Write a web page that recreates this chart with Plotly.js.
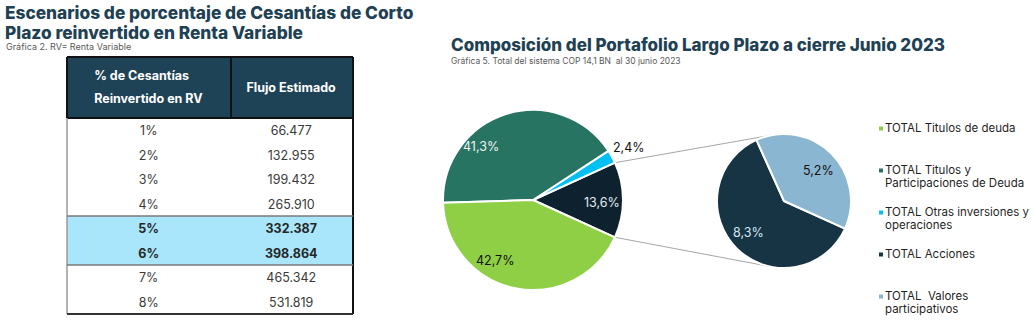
<!DOCTYPE html>
<html><head><meta charset="utf-8">
<script src="https://cdn.plot.ly/plotly-3.0.1.min.js"></script>
<style>html,body{margin:0;padding:0;background:#fff}</style>
</head><body><div id="chart" style="width:1033px;height:325px"></div>
<script>
// ---------------- data ----------------
const pctCesantias = ['1%', '2%', '3%', '4%', '5%', '6%', '7%', '8%'];
const flujoEstimado = ['66.477', '132.955', '199.432', '265.910', '332.387', '398.864', '465.342', '531.819'];
const tableHeader = ['% de Cesantías<br>Reinvertido en RV', 'Flujo Estimado'];
const highlightRows = [4, 5];

const categories = [
  'TOTAL Titulos de deuda',
  'TOTAL Titulos y<br>Participaciones de Deuda',
  'TOTAL Otras inversiones y<br>operaciones',
  'TOTAL Acciones',
  'TOTAL  Valores<br>participativos'
];
const mainValues = [42.7, 41.3, 2.4];      // first three categories (main pie)
const otherLabel = 'Otros (Acciones + Valores participativos)';
const otherValue = 13.6;                   // combined slice of the main pie
const secondaryValues = [8.3, 5.2];        // TOTAL Acciones, TOTAL Valores participativos

// ---------------- style ----------------
const W = 1033, H = 325;
const px = x => x / W;
const py = y => 1 - y / H;
const FONT = 'Inter, sans-serif';
const colors = ['#8ecf46', '#287463', '#00bff3', '#163443', '#8ab6d1'];
const otherColor = '#0d222e';
const titleColor = '#1e4154';

// legend labels: every entry takes three text lines (equal slots, like the reference)
const legendText = categories.map((c, i) => {
  const lines = c.split('<br>');
  const n = i === categories.length - 1 ? lines.length : 3;
  while (lines.length < n) lines.push('\u00a0');
  return lines.map(s => '<span style="font-size:11.5px">' + s + '</span>').join('<br>');
});

// table geometry
const tLeft = 67, tTop = 57, colW = [164, 122], headH = 61, rowH = 24.5;
const tRight = tLeft + colW[0] + colW[1];
const tBottom = tTop + headH + rowH * pctCesantias.length;

// pie geometry
const main = {cx: 533, cy: 200, r: 90};
const sec = {cx: 784, cy: 201, r: 67, rotation: -24.3};
const dom = p => ({x: [px(p.cx - p.r), px(p.cx + p.r)], y: [py(p.cy + p.r), py(p.cy - p.r)]});

// ---------------- table ----------------
const isHi = i => highlightRows.indexOf(i) !== -1;
const fillCol = pctCesantias.map((_, i) => isHi(i) ? '#a9e6fb' : '#ffffff');
const weightCol = pctCesantias.map((_, i) => isHi(i) ? 700 : 400);
const colorCol = pctCesantias.map((_, i) => isHi(i) ? '#262626' : '#3a3a3a');
// header text: fine line grid (small base font) so the two header lines sit apart and
// the single-line header is centred between them
const hs = s => '<span style="font-size:12.5px">' + s + '</span>';
const NB = '\u00a0';
const headerDisplay = [
  '<b>' + [NB, NB].concat([hs(tableHeader[0].split('<br>')[0]), NB, NB, NB, hs(tableHeader[0].split('<br>')[1])]).join('<br>') + '</b>',
  '<b>' + [NB, NB, NB, NB, hs(tableHeader[1])].join('<br>') + '</b>'
];

const tableTrace = {
  type: 'table',
  domain: {x: [px(tLeft), px(tRight)], y: [py(tBottom + 4), py(tTop)]},
  columnwidth: colW,
  header: {
    values: headerDisplay, align: 'center', height: headH,
    fill: {color: '#1e4356'}, line: {color: '#1e4356', width: 1},
    font: {family: FONT, size: 4.4, color: '#ffffff'}
  },
  cells: {
    values: [pctCesantias, flujoEstimado],
    align: 'center', height: rowH,
    fill: {color: [fillCol, fillCol]}, line: {color: [fillCol, fillCol], width: 1},
    font: {family: FONT, size: 12.5, color: [colorCol, colorCol], weight: [weightCol, weightCol]}
  },
  hoverinfo: 'skip'
};

// ---------------- pies ----------------
const mainLabels = [otherLabel, legendText[2], legendText[1], legendText[0]];
const mainVals = [otherValue, mainValues[2], mainValues[1], mainValues[0]];
const mainColors = [otherColor, colors[2], colors[1], colors[0]];
const mainTotal = mainVals.reduce((a, b) => a + b, 0);
const otherAngle = otherValue / mainTotal * 360;

const mainPie = {
  type: 'pie', sort: false, direction: 'counterclockwise',
  rotation: 90 - otherAngle / 2,
  labels: mainLabels, values: mainVals,
  marker: {colors: mainColors, line: {color: '#ffffff', width: 2}},
  domain: dom(main), textinfo: 'none',
  showlegend: false, hoverinfo: 'percent'
};

const secVals = [0, 0, 0, secondaryValues[0], secondaryValues[1]];
const secPie = {
  type: 'pie', sort: false, direction: 'counterclockwise',
  rotation: sec.rotation,
  labels: legendText, values: secVals,
  marker: {colors: colors, line: {color: '#ffffff', width: 2}},
  domain: dom(sec), textinfo: 'none',
  showlegend: true, hoverinfo: 'value'
};

// data labels, placed at each slice's middle angle (Excel-like spots: extra angle / radius factor)
const fmtPct = v => v.toFixed(1).replace('.', ',') + '%';
function sliceLabels(p, vals, startMath, place, fontColors) {
  const tot = vals.reduce((a, b) => a + b, 0);
  let a = startMath;
  const out = [];
  vals.forEach((v, i) => {
    const span = v / tot * 360;
    if (v > 0) {
      const pl = place[i];
      const mid = (a + span / 2 + pl[0]) * Math.PI / 180;
      out.push({xref: 'paper', yref: 'paper', showarrow: false,
        x: px(p.cx + pl[1] * p.r * Math.cos(mid)), y: py(p.cy - pl[1] * p.r * Math.sin(mid)),
        xanchor: 'center', yanchor: 'middle', text: fmtPct(v),
        font: {family: FONT, size: 12.5, color: fontColors[i]}});
    }
    a += span;
  });
  return out;
}
const mainPlace = [[-1.7, 0.77], [0, 1.22], [26.4, 0.83], [-21, 0.79]];
const secPlace = [[0, 0], [0, 0], [0, 0], [-4, 0.71], [-3.6, 0.68]];
const pieLabels = sliceLabels(main, mainVals, -otherAngle / 2, mainPlace, ['#e3ecf1', '#111', '#eef5f2', '#111'])
  .concat(sliceLabels(sec, secVals, 90 - sec.rotation, secPlace, ['#000', '#000', '#000', '#d5e7f3', '#111']));

// connector lines: from the edges of the combined slice to tangent points of the secondary pie
function tangentLine(sign) {
  const a = (otherAngle / 2) * Math.PI / 180 * sign;
  const P = [main.cx + main.r * Math.cos(a), main.cy - main.r * Math.sin(a)];
  const dx = P[0] - sec.cx, dy = -(P[1] - sec.cy);
  const d = Math.hypot(dx, dy);
  const base = Math.atan2(dy, dx);
  const off = Math.acos(sec.r / d);
  const t = base - sign * off;
  const T = [sec.cx + sec.r * Math.cos(t), sec.cy - sec.r * Math.sin(t)];
  return {type: 'line', xref: 'paper', yref: 'paper', x0: px(P[0]), y0: py(P[1]), x1: px(T[0]), y1: py(T[1]),
          line: {color: '#a6a6a6', width: 1}, layer: 'below'};
}

const L = (x0, y0, x1, y1, color, width) => ({type: 'line', xref: 'paper', yref: 'paper',
  x0: px(x0), y0: py(y0), x1: px(x1), y1: py(y1), line: {color: color, width: width}});
const hiTop = tTop + headH + rowH * Math.min(...highlightRows);
const hiBot = tTop + headH + rowH * (Math.max(...highlightRows) + 1);

const shapes = [
  tangentLine(1), tangentLine(-1),
  // header box
  L(tLeft, tTop, tRight, tTop, '#111', 2),
  L(tLeft, tTop, tLeft, tTop + headH, '#111', 2),
  L(tRight, tTop, tRight, tTop + headH, '#111', 2),
  L(tLeft + colW[0], tTop, tLeft + colW[0], tTop + headH, '#111', 2),
  L(tLeft, tTop + headH, tRight, tTop + headH, '#111', 2),
  // body box
  L(tLeft, tTop + headH, tLeft, tBottom, '#9a9a9a', 1.5),
  L(tRight, tTop + headH, tRight, tBottom, '#111', 2),
  L(tLeft, tBottom, tRight, tBottom, '#333', 2),
  // highlight group
  L(tLeft, hiTop, tRight, hiTop, '#7a7a7a', 1.5),
  L(tLeft, hiBot, tRight, hiBot, '#7a7a7a', 1.5)
];

const ann = (x, y, text, size, color, weight) => ({xref: 'paper', yref: 'paper', x: px(x), y: py(y),
  xanchor: 'left', yanchor: 'middle', showarrow: false, text: text,
  font: {family: FONT, size: size, color: color, weight: weight || 400}});

const annotations = [
  ann(3, 12, 'Escenarios de porcentaje de Cesantías de Corto', 17.3, titleColor, 800),
  ann(3, 32, 'Plazo reinvertido en Renta Variable', 17.3, titleColor, 800),
  ann(4, 46.5, 'Gráfica 2. RV= Renta Variable', 9, '#595959'),
  ann(449, 45, 'Composición del Portafolio Largo Plazo a cierre Junio 2023', 17, titleColor, 800),
  ann(449, 61, 'Gráfica 5. Total del sistema COP 14,1 BN\u00a0 al 30 junio 2023', 8.5, '#595959')
].concat(pieLabels);

const layout = {
  width: W, height: H, margin: {l: 0, r: 0, t: 0, b: 0, autoexpand: false},
  paper_bgcolor: '#ffffff', plot_bgcolor: '#ffffff',
  separators: ',.',
  font: {family: FONT},
  showlegend: true,
  legend: {x: px(845), xanchor: 'left', y: py(115.5), yanchor: 'top', valign: 'top',
           font: {family: FONT, size: 10, color: '#1f1f1f'}, bgcolor: 'rgba(0,0,0,0)',
           traceorder: 'normal'},
  shapes: shapes, annotations: annotations
};

Plotly.newPlot('chart', [tableTrace, mainPie, secPie], layout, {displayModeBar: false, staticPlot: true})
  .then(gd => {
    // smaller legend squares placed close to their text, as in the reference
    gd.querySelectorAll('.legend .legendpie').forEach(p => p.setAttribute('d', 'M19,3H13V-3H19Z'));
  });
</script></body></html>
